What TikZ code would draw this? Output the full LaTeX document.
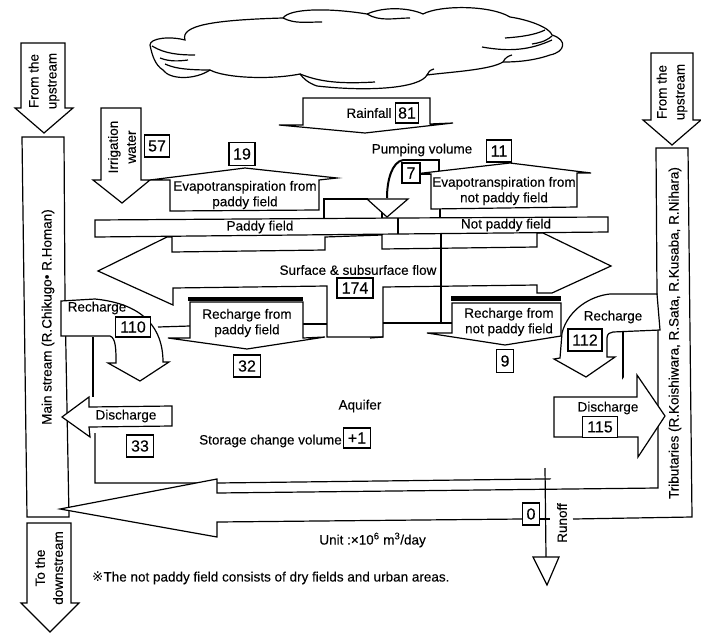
\documentclass[tikz,border=0pt]{standalone}
\usepackage{fontspec}
\setmainfont{Liberation Sans}[FakeBold=0.15]
\newfontfamily\symfont{DejaVu Sans}
\tikzset{
  ln/.style={draw=black,line width=1.2pt,line join=miter},
  shp/.style={ln,fill=white},
  txt/.style={font=\fontsize{13.5}{15.5}\selectfont,align=center,inner sep=0pt},
  vtxt/.style={txt,font=\fontsize{13.5}{18}\selectfont,rotate=90},
  numbox/.style={draw=black,line width=1.3pt,fill=white,inner sep=0pt,font=\fontsize{16}{18}\selectfont},
}
\begin{document}
\begin{tikzpicture}[x=1pt,y=-1pt]
\useasboundingbox (0,0) rectangle (701,634);
\fill[white] (0,0) rectangle (701,634);
% cloud
\draw[shp] (150,45) .. controls (150,38) and (170,36) .. (185,40)
  .. controls (180,25) and (215,20) .. (283,18)
  .. controls (290,8) and (330,8) .. (367,14)
  .. controls (385,6) and (410,8) .. (423,14)
  .. controls (440,5) and (490,5) .. (510,17)
  .. controls (530,20) and (550,28) .. (552,35)
  .. controls (568,40) and (565,52) .. (550,55)
  .. controls (530,62) and (510,62) .. (503,62)
  .. controls (490,70) and (450,72) .. (427,75)
  .. controls (420,88) and (370,92) .. (317,86)
  .. controls (308,83) and (303,78) .. (300,74)
  .. controls (270,80) and (225,78) .. (210,70)
  .. controls (195,80) and (170,80) .. (163,70)
  .. controls (155,65) and (152,55) .. (150,45) -- cycle;
\draw[ln] (152,46) .. controls (165,54) and (180,55) .. (195,55);
\draw[ln] (160,58) .. controls (170,62) and (180,61) .. (188,60);
\draw[ln] (165,64) .. controls (172,67) and (180,70) .. (210,70);
\draw[ln] (300,74) .. controls (320,82) and (340,84) .. (375,82);
\draw[ln] (283,18) .. controls (295,24) and (305,22) .. (322,22);
\draw[ln] (367,14) .. controls (380,22) and (395,18) .. (410,18);
\draw[ln] (482,47) .. controls (510,52) and (530,50) .. (552,40);
\draw[ln] (505,38) .. controls (520,37) and (535,35) .. (545,30);
\draw[ln] (532,44) .. controls (538,43) and (545,42) .. (552,36);
\draw[ln] (503,62) .. controls (505,58) and (508,56) .. (512,55);
\draw[ln] (427,75) .. controls (428,72) and (430,70) .. (434,69);
% rivers
\draw[shp] (22,137) -- (64,137) -- (65,300) -- (69,517) -- (27,517) -- cycle;
\draw[shp] (657,295) -- (656,148) -- (688,148) -- (692,517) -- (573,519);
\node[vtxt] (mainstream) at (48,317) {Main stream (R.Chikugo• R.Homan)};
\node[vtxt] (tributaries) at (675,333) {Tributaries (R.Koishiwara, R.Sata, R.Kusaba, R.Nihara)};
% upstream / downstream arrows
\draw[shp] (21,43) -- (65,43) -- (65,108) -- (73,108) -- (44,133) -- (15,108) -- (21,108) -- cycle;
\node[vtxt] (upleft) at (44,81) {From the\\upstream};
\draw[shp] (651,53) -- (693,53) -- (693,120) -- (701,120) -- (672,145) -- (643,120) -- (651,120) -- cycle;
\node[vtxt] (upright) at (672,92) {From the\\upstream};
\draw[shp] (27,523) -- (71,523) -- (71,603) -- (79,603) -- (50,632) -- (21,603) -- (27,603) -- cycle;
\node[vtxt] (down) at (49,568) {To the\\downstream};
% rainfall
\draw[shp] (303,125) -- (303,98) -- (430,98) -- (430,124) -- (453,123) -- (365,133) -- (279,125) -- cycle;
\node[txt] (rain) at (369,113) {Rainfall};
\node[numbox,minimum width=23pt,minimum height=20pt] (n81) at (407,113) {81};
% irrigation
\draw[shp] (101,108) -- (141,108) -- (141,180) -- (150,180) -- (122,203) -- (93,180) -- (101,180) -- cycle;
\node[vtxt] (irr) at (122,147) {Irrigation\\water};
\node[numbox,minimum width=25pt,minimum height=22pt] (n57) at (157,146) {57};
% paddy surface flow (double arrow)
\draw[shp] (172,237) -- (172,252) -- (325,250) -- (325,237) -- (382,235) -- (382,249) -- (537,247) -- (537,233) -- (543,233)
  -- (611,266) -- (552,293) -- (537,293) -- (537,285) -- (383,287) -- (383,337) -- (327,337) -- (327,286) -- (173,288) -- (173,305)
  -- (98,271) -- (167,237) -- cycle;
\node[txt] (flow) at (358,270) {Surface \& subsurface flow};
\node[numbox,minimum width=36pt,minimum height=20pt] (n174) at (355,288) {174};
\draw[ln] (383,323) -- (452,323);
\draw[ln] (441,234) -- (441,323);
\draw[ln] (303,324) -- (327,324);
\draw[ln] (370,338) -- (383,337);
% pumping box
\draw[ln] (324,218) -- (324,199) -- (368,199);
\draw[ln] (382,212) -- (382,218);
\draw[ln] (440,209) -- (440,217);
\draw[ln] (403,160) -- (439,160) -- (439,173);
\draw[ln] (420,174) -- (431,174);
\draw[line width=2pt] (403,160) .. controls (392,162) and (387,180) .. (387,198);
\draw[shp] (367,199) -- (408,199) -- (387,217) -- cycle;
% evapotranspiration
\draw[shp] (170,180) -- (150,180) -- (245,168) -- (337,178) -- (319,180) -- (319,210) -- (170,211) -- cycle;
\node[txt] (evap1) at (245,195) {Evapotranspiration from\\paddy field};
\node[numbox,minimum width=26pt,minimum height=23pt] (n19) at (242,154) {19};
\draw[shp] (431,174) -- (423,173) -- (510,163) -- (591,173) -- (577,173) -- (577,207) -- (431,209) -- cycle;
\node[txt] (evap2) at (504,191) {Evapotranspiration from\\not paddy field};
\node[numbox,minimum width=25pt,minimum height=22pt] (n11) at (499,151) {11};
\node[numbox,minimum width=18pt,minimum height=20pt] (n7) at (411,173) {7};
\node[txt] (pump) at (422,150) {Pumping volume};
% field bars
\draw[shp] (95,220) -- (398,218) -- (608,217) -- (608,232) -- (398,234) -- (95,237) -- cycle;
\draw[ln] (398,218) -- (398,234);
\node[txt] (paddy) at (260,227) {Paddy field};
\node[txt] (notpaddy) at (506,225) {Not paddy field};
% frames
\draw[ln] (93,337) -- (93,397);
\draw[ln] (95,433) -- (95,483) -- (217,483) -- (624,478) -- (624,437);
\draw[ln] (623,332) -- (623,397);
% big outflow arrow
\draw[shp] (658,330) -- (658,488) -- (217,493) -- (217,479) -- (60,509) -- (217,537) -- (217,522) -- (522,519);
\draw[ln] (540,519) -- (550,519);
% discharge left
\draw[shp] (62,417) -- (89,397) -- (89,407) -- (172,406) -- (172,426) -- (89,427) -- (90,437) -- cycle;
\node[txt] (dis1) at (126,416) {Discharge};
\node[numbox,minimum width=27pt,minimum height=22pt] (n33) at (140,446) {33};
% discharge right
\draw[shp] (554,397) -- (637,397) -- (637,375) -- (665,416) -- (638,457) -- (638,437) -- (554,437) -- cycle;
\node[txt] (dis2) at (608,408) {Discharge};
\node[numbox,minimum width=35pt,minimum height=21pt] (n115) at (600,427) {115};
% recharge left
\draw[shp] (61,301) -- (61,336) -- (110,336) .. controls (116,338) and (116,350) .. (116,363) -- (108,363) -- (140,381) -- (169,362) -- (163,362)
  .. controls (163,340) and (155,305) .. (95,299) -- cycle;
\node[txt] (rech1) at (97,308) {Recharge};
\node[numbox,minimum width=35pt,minimum height=20pt] (n110) at (133,327) {110};
\draw[ln] (158,327) -- (190,326);
% recharge right
\draw[shp] (657,294) -- (610,294) .. controls (590,296) and (568,310) .. (562,333) -- (560,358) -- (554,359) -- (586,377) -- (615,357) -- (607,357)
  -- (607,338) .. controls (607,334) and (610,332) .. (613,332) -- (660,330) -- cycle;
\node[txt] (rech2) at (613,317) {Recharge};
\node[numbox,minimum width=34pt,minimum height=22pt] (n112) at (585,340) {112};
% recharge from fields
\draw[shp] (190,302) -- (303,302) -- (303,338) -- (325,337) -- (247,349) -- (168,338) -- (190,338) -- cycle;
\fill (188,297) rectangle (303,301);
\node[txt] (rp) at (247,323) {Recharge from\\paddy field};
\node[numbox,minimum width=27pt,minimum height=22pt] (n32) at (247,366) {32};
\draw[shp] (452,303) -- (561,303) -- (561,336) -- (505,345) -- (427,333) -- (452,333) -- cycle;
\fill (451,296) rectangle (561,301);
\node[txt] (rn) at (509,322) {Recharge from\\not paddy field};
\node[numbox,minimum width=17pt,minimum height=23pt] (n9) at (505,361) {9};
% runoff
\draw[ln] (545,468) -- (546,557);
\draw[shp] (533,557) -- (559,557) -- (547,585) -- cycle;
\node[numbox,minimum width=17pt,minimum height=22pt] (n0) at (531,514) {0};
\node[vtxt] (runoff) at (562,523) {Runoff};
% aquifer
\node[txt] (aq) at (360,406) {Aquifer};
\node[txt,anchor=east] (st) at (342,441) {Storage change volume};
\node[numbox,minimum width=27pt,minimum height=20pt] (n1) at (357,438) {+1};
\node[txt,anchor=east] (unit) at (426,540) {Unit :×10\textsuperscript{6} m\textsuperscript{3}/day};
\node[txt,anchor=west] (note) at (92,578) {{\symfont ※}The not paddy field consists of dry fields and urban areas.};
\end{tikzpicture}
\end{document}
